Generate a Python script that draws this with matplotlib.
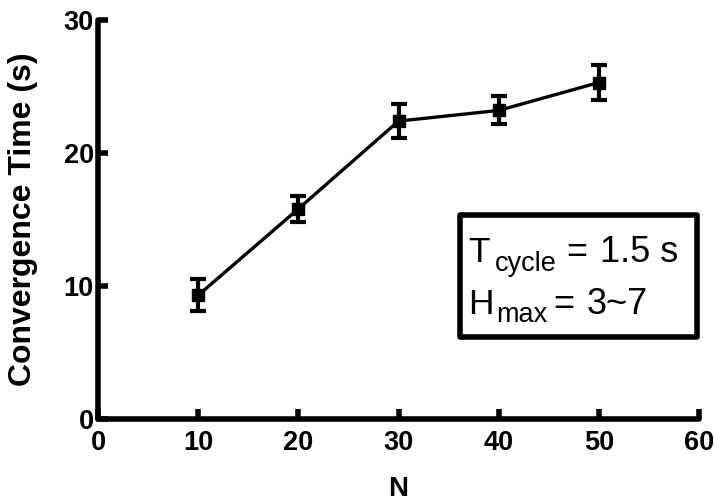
import matplotlib
matplotlib.use("Agg")
import matplotlib.pyplot as plt
from matplotlib.patches import Rectangle

N = [10, 20, 30, 40, 50]
conv_time = [9.3, 15.8, 22.4, 23.2, 25.3]
conv_err = [1.2, 1.0, 1.25, 1.05, 1.3]
xticks = [0, 10, 20, 30, 40, 50, 60]
yticks = [0, 10, 20, 30]

plt.rcParams['font.family'] = ['Liberation Sans', 'DejaVu Sans']

W, H = 715, 501
fig = plt.figure(figsize=(W / 100, H / 100), dpi=100)
ax = fig.add_axes([98 / W, 1 - 419 / H, 601 / W, 399 / H])

ax.errorbar(N, conv_time, yerr=conv_err, color='black', lw=2.4, marker='s',
            markersize=8, capsize=5.5, capthick=3, elinewidth=3)

ax.set_xlim(0, 60)
ax.set_ylim(0, 30)
ax.set_xticks(xticks)
ax.set_yticks(yticks)
for s in ['top', 'right']:
    ax.spines[s].set_visible(False)
for s in ['left', 'bottom']:
    ax.spines[s].set_linewidth(4)
    ax.spines[s].set_capstyle('round')
ax.tick_params(direction='in', length=7, width=4, labelsize=19.5)
ax.tick_params(axis='x', pad=8)
ax.tick_params(axis='y', pad=3)
for lab in ax.get_xticklabels() + ax.get_yticklabels():
    lab.set_fontweight('bold')
ax.set_xlabel('N', fontsize=20, fontweight='bold', labelpad=14)
ax.set_ylabel('Convergence Time (s)', fontsize=23, fontweight='bold')
ax.yaxis.set_label_coords(-0.10, 0.5)

rect = Rectangle((460, H - 337), 237, 122, transform=None,
                 fill=False, edgecolor='black', lw=4, joinstyle='round', clip_on=False)
fig.add_artist(rect)


def put(x, y, s, size):
    fig.text(x / W, 1 - y / H, s, fontsize=size, ha='left', va='baseline')


put(468, 262, 'T', 25.5)
put(495, 271, 'cycle', 19.5)
put(566, 262, '=', 26)
put(600, 262, '1.5 s', 26)
put(468, 314, 'H', 25.5)
put(496, 322, 'max', 19.5)
put(553, 314, '=', 26)
put(587, 314, '3~7', 26)

fig.savefig('out.png', dpi=100)
